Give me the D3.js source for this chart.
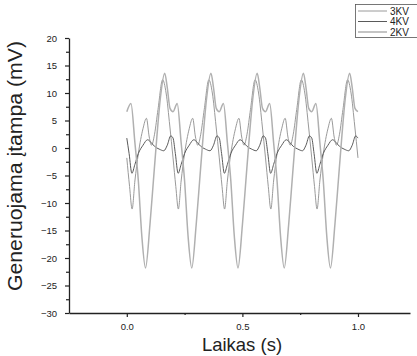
<!DOCTYPE html>
<html><head><meta charset="utf-8">
<script src="https://cdn.jsdelivr.net/npm/d3@7"></script>
<style>body{margin:0;background:#fff}svg{display:block}text{font-family:"Liberation Sans",Arial,sans-serif}</style>
</head><body>
<svg id="c" width="417" height="356"></svg>
<script>
const seriesNames = ["3KV", "4KV", "2KV"];
const seriesColors = ["#9a9a9a", "#5a5a5a", "#b0b0b0"];
// Series A (-11 troughs, 12.4 peaks)
const tA = [0,0.012,0.023,0.035,0.05,0.07,0.085,0.097,0.107,0.12,0.135,0.155,0.17,0.186,
            0.2,0.212,0.223,0.235,0.25,0.27,0.285,0.297,0.307,0.32,0.335,0.355,0.37,0.386,
            0.4,0.412,0.423,0.435,0.45,0.47,0.485,0.497,0.507,0.52,0.535,0.555,0.57,0.586,
            0.6,0.612,0.623,0.635,0.65,0.67,0.685,0.697,0.707,0.72,0.735,0.755,0.77,0.786,
            0.8,0.812,0.823,0.835,0.85,0.87,0.885,0.897,0.907,0.92,0.935,0.955,0.97,0.986,1.0];
const vA = [-1.8,-7,-11.1,-6,-1,3.5,5.4,2,0.5,2.5,7,12.4,10,4,
            -1.8,-7,-11.1,-6,-1,3.5,5.4,2,0.5,2.5,7,12.4,10,4,
            -1.8,-7,-11.1,-6,-1,3.5,5.4,2,0.5,2.5,7,12.4,10,4,
            -1.8,-7,-11.1,-6,-1,3.5,5.4,2,0.5,2.5,7,12.4,10,4,
            -1.8,-7,-11.1,-6,-1,3.5,5.4,2,0.5,2.5,7,12.4,10,4,-1.8];
// Series B (-22 troughs, 13.6 peaks)
const tB = [0,0.018,0.035,0.05,0.065,0.081,0.1,0.115,0.13,0.145,0.164,0.175,0.187,
            0.2,0.218,0.235,0.25,0.265,0.281,0.3,0.315,0.33,0.345,0.364,0.375,0.387,
            0.4,0.418,0.435,0.45,0.465,0.481,0.5,0.515,0.53,0.545,0.564,0.575,0.587,
            0.6,0.618,0.635,0.65,0.665,0.681,0.7,0.715,0.73,0.745,0.764,0.775,0.787,
            0.8,0.818,0.835,0.85,0.865,0.881,0.9,0.915,0.93,0.945,0.964,0.975,0.987,1.0];
const vB = [6.6,8.1,1,-6,-16,-21.8,-14,-6,2,9,13.6,11,7.2,
            6.6,8.1,1,-6,-16,-21.8,-14,-6,2,9,13.6,11,7.2,
            6.6,8.1,1,-6,-16,-21.8,-14,-6,2,9,13.6,11,7.2,
            6.6,8.1,1,-6,-16,-21.8,-14,-6,2,9,13.6,11,7.2,
            6.6,8.1,1,-6,-16,-21.8,-14,-6,2,9,13.6,11,7.2,6.6];
// Series C (small, around 0)
const tC = [0,0.01,0.022,0.035,0.05,0.07,0.09,0.105,0.12,0.14,0.16,0.175,0.19,
            0.2,0.21,0.222,0.235,0.25,0.27,0.29,0.305,0.32,0.34,0.36,0.375,0.39,
            0.4,0.41,0.422,0.435,0.45,0.47,0.49,0.505,0.52,0.54,0.56,0.575,0.59,
            0.6,0.61,0.622,0.635,0.65,0.67,0.69,0.705,0.72,0.74,0.76,0.775,0.79,
            0.8,0.81,0.822,0.835,0.85,0.87,0.89,0.905,0.92,0.94,0.96,0.975,0.99,1.0];
const vC = [1.8,-1,-4.6,-3,-1,0.5,1.5,1,0.3,-0.2,-0.5,0.5,2.2,
            1.8,-1,-4.6,-3,-1,0.5,1.5,1,0.3,-0.2,-0.5,0.5,2.2,
            1.8,-1,-4.6,-3,-1,0.5,1.5,1,0.3,-0.2,-0.5,0.5,2.2,
            1.8,-1,-4.6,-3,-1,0.5,1.5,1,0.3,-0.2,-0.5,0.5,2.2,
            1.8,-1,-4.6,-3,-1,0.5,1.5,1,0.3,-0.2,-0.5,0.5,2.2,1.8];
const xTicks = [0.0, 0.5, 1.0];
const xMinor = [0.25, 0.75];
const yTicks = [-30,-25,-20,-15,-10,-5,0,5,10,15,20];
const yMinor = [-27.5,-22.5,-17.5,-12.5,-7.5,-2.5,2.5,7.5,12.5,17.5];

const svg = d3.select("#c");
const x = d3.scaleLinear().domain([-0.25, 1.225]).range([69, 410]);
const y = d3.scaleLinear().domain([-30, 20]).range([313, 38]);

// axes
const gx = svg.append("g").attr("transform", "translate(0,313)");
gx.call(d3.axisBottom(x).tickValues(xTicks).tickFormat(d3.format(".1f")).tickSize(4).tickSizeOuter(0));
gx.append("g").call(d3.axisBottom(x).tickValues(xMinor).tickFormat("").tickSize(2).tickSizeOuter(0)).select(".domain").remove();
const gy = svg.append("g").attr("transform", "translate(69,0)");
gy.call(d3.axisLeft(y).tickValues(yTicks).tickFormat(d3.format("d")).tickSize(4).tickSizeOuter(0));
gy.append("g").call(d3.axisLeft(y).tickValues(yMinor).tickFormat("").tickSize(3).tickSizeOuter(0)).select(".domain").remove();
svg.selectAll(".domain").attr("stroke", "#222").attr("stroke-width", 1.3);
svg.selectAll(".tick line").attr("stroke", "#222").attr("stroke-width", 1.2);
gx.selectAll(".tick text").attr("font-size", 9.5).attr("fill", "#222").attr("dy", "1.1em");
gy.selectAll(".tick text").attr("font-size", 9.5).attr("fill", "#222").attr("x", -12);

// lines
const line = d3.line().x(d => x(d[0])).y(d => y(d[1])).curve(d3.curveMonotoneX);
const data = [d3.zip(tA, vA), d3.zip(tC, vC), d3.zip(tB, vB)];
const widths = [1, 1, 1.5];
data.forEach((d, i) => {
  svg.append("path").datum(d).attr("d", line).attr("fill", "none")
    .attr("stroke", seriesColors[i]).attr("stroke-width", widths[i]);
});

// titles
svg.append("text").attr("transform", "translate(22,166) rotate(-90)").attr("text-anchor", "middle")
  .attr("font-size", 21).attr("textLength", 250).attr("lengthAdjust", "spacingAndGlyphs")
  .attr("fill", "#222").text("Generuojama įtampa (mV)");
svg.append("text").attr("x", 242).attr("y", 351).attr("text-anchor", "middle")
  .attr("font-size", 18.5).attr("fill", "#222").text("Laikas (s)");

// legend
const lg = svg.append("g");
lg.append("rect").attr("x", 355.5).attr("y", 4.5).attr("width", 70).attr("height", 33)
  .attr("fill", "#fff").attr("stroke", "#555").attr("stroke-width", 0.8);
seriesNames.forEach((n, i) => {
  const yy = 11 + i * 10.5;
  lg.append("line").attr("x1", 358).attr("x2", 387).attr("y1", yy).attr("y2", yy)
    .attr("stroke", seriesColors[i]).attr("stroke-width", widths[i]);
  lg.append("text").attr("x", 390).attr("y", yy + 3.5).attr("font-size", 10).attr("fill", "#222").text(n);
});
</script>
</body></html>
